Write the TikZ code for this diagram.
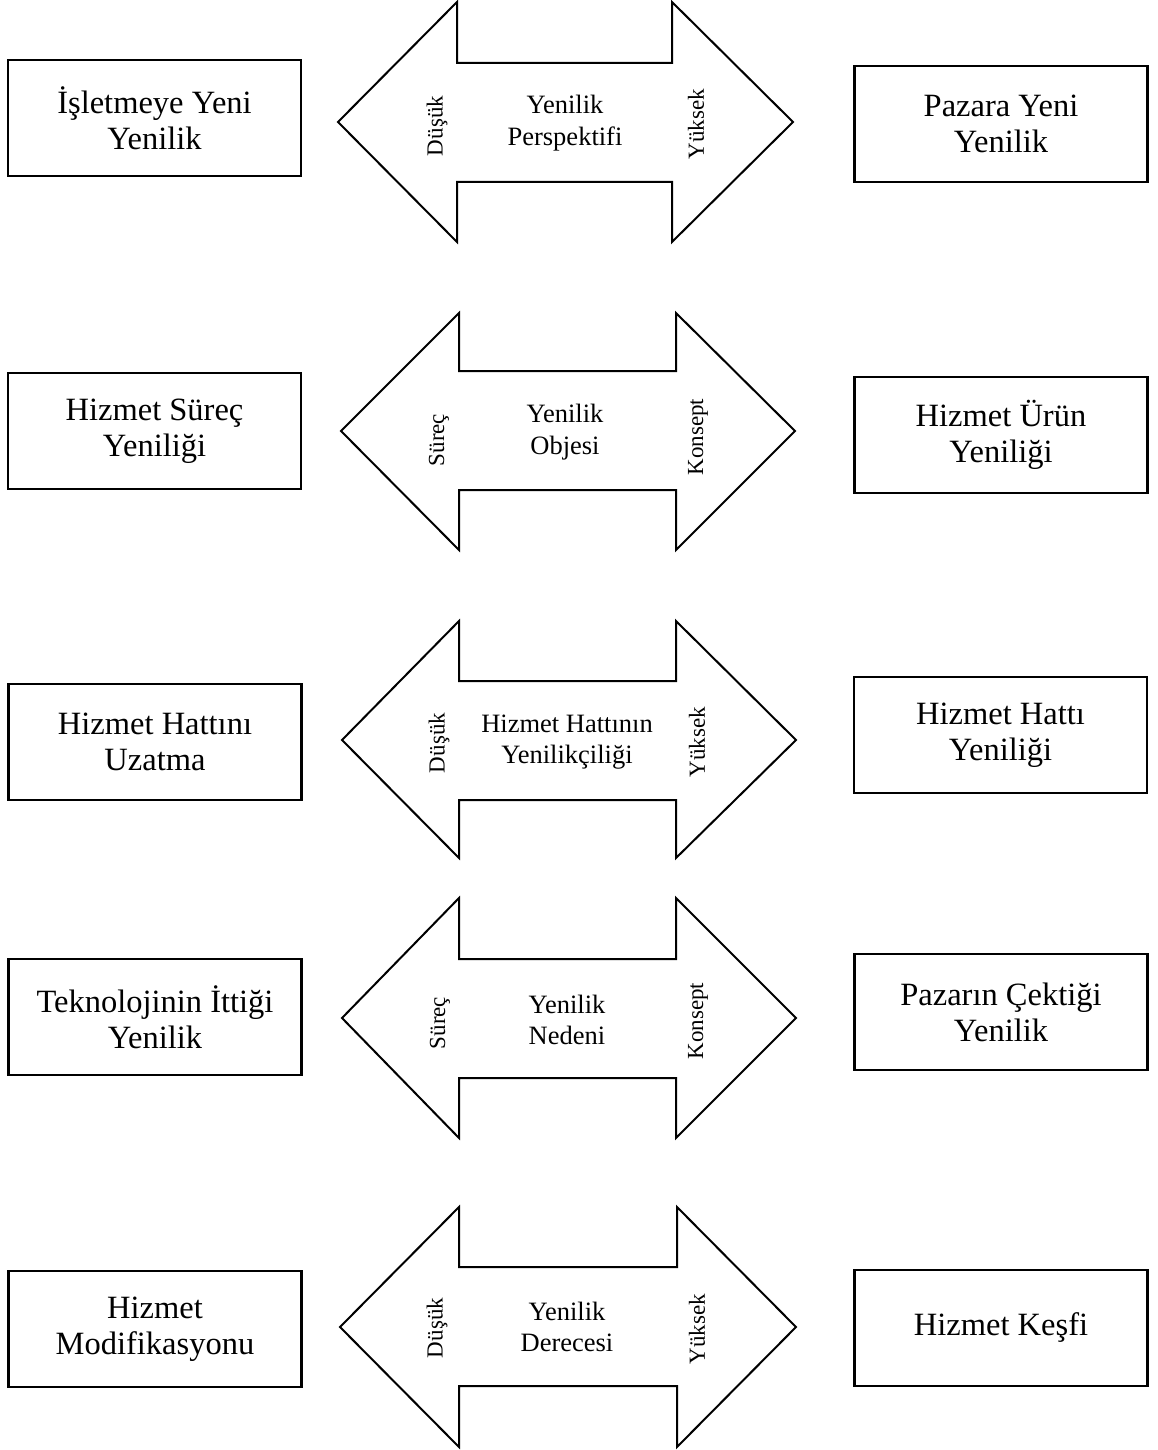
\documentclass[tikz,border=0pt]{standalone}
\usepackage{fontspec}
\setmainfont{Liberation Serif}
\begin{document}
\begin{tikzpicture}[x=1pt,y=-1pt,
  box/.style={draw, line width=2.6pt, minimum width=293pt, minimum height=116pt,
    align=center, inner sep=0pt, font=\fontsize{32.5}{36}\selectfont},
  twoway/.style={draw, line width=2pt, line join=miter, fill=white},
  axis/.style={align=center, inner sep=0pt, font=\fontsize{26.5}{31.5}\selectfont},
  pole/.style={rotate=90, inner sep=0pt, font=\fontsize{23}{27}\selectfont}]
\useasboundingbox (0,0) rectangle (1158,1450);

% ---- Yenilik perspektifi
\draw[twoway] (338,122) -- (457,2) -- (457,63) -- (672,63) -- (672,2) -- (793,122)
  -- (672,242) -- (672,182) -- (457,182) -- (457,242) -- cycle;
\node[axis] (a1) at (565,123) {Yenilik\\Perspektifi};
\node[pole] (lo1) at (437,126) {Düşük};
\node[pole] (hi1) at (696,124) {Yüksek};
\node[box] (l1) at (154.5,118) {İşletmeye Yeni\\Yenilik};
\node[box] (r1) at (1001,124) {Pazara Yeni\\Yenilik};

% ---- Yenilik objesi
\draw[twoway] (341,431) -- (459,313) -- (459,371) -- (676,371) -- (676,313) -- (795,431)
  -- (676,550) -- (676,490) -- (459,490) -- (459,550) -- cycle;
\node[axis] (a2) at (565,432) {Yenilik\\Objesi};
\node[pole] (lo2) at (439,440) {Süreç};
\node[pole] (hi2) at (698,437) {Konsept};
\node[box] (l2) at (154.5,431) {Hizmet Süreç\\Yeniliği};
\node[box] (r2) at (1001,435) {Hizmet Ürün\\Yeniliği};

% ---- Hizmet hattının yenilikçiliği
\draw[twoway] (342,740) -- (459,621) -- (459,681) -- (676,681) -- (676,621) -- (796,740)
  -- (676,858) -- (676,800) -- (459,800) -- (459,858) -- cycle;
\node[axis] (a3) at (567,742) {Hizmet Hattının\\Yenilikçiliği};
\node[pole] (lo3) at (439,743) {Düşük};
\node[pole] (hi3) at (697,742) {Yüksek};
\node[box] (l3) at (155,742) {Hizmet Hattını\\Uzatma};
\node[box] (r3) at (1000.5,735) {Hizmet Hattı\\Yeniliği};

% ---- Yenilik nedeni
\draw[twoway] (342,1018) -- (459,898) -- (459,959) -- (676,959) -- (676,898) -- (796,1018)
  -- (676,1138) -- (676,1078) -- (459,1078) -- (459,1138) -- cycle;
\node[axis] (a4) at (567,1020) {Yenilik\\Nedeni};
\node[pole] (lo4) at (440,1023) {Süreç};
\node[pole] (hi4) at (698,1021) {Konsept};
\node[box] (l4) at (155,1017) {Teknolojinin İttiği\\Yenilik};
\node[box] (r4) at (1001,1012) {Pazarın Çektiği\\Yenilik};

% ---- Yenilik derecesi
\draw[twoway] (340,1327) -- (459,1207) -- (459,1267) -- (677,1267) -- (677,1207) -- (796,1327)
  -- (677,1447) -- (677,1386) -- (459,1386) -- (459,1447) -- cycle;
\node[axis] (a5) at (567,1327) {Yenilik\\Derecesi};
\node[pole] (lo5) at (437,1328) {Düşük};
\node[pole] (hi5) at (697,1329) {Yüksek};
\node[box] (l5) at (155,1329) {Hizmet\\Modifikasyonu};
\node[box] (r5) at (1001,1328) {Hizmet Keşfi};
\end{tikzpicture}
\end{document}
